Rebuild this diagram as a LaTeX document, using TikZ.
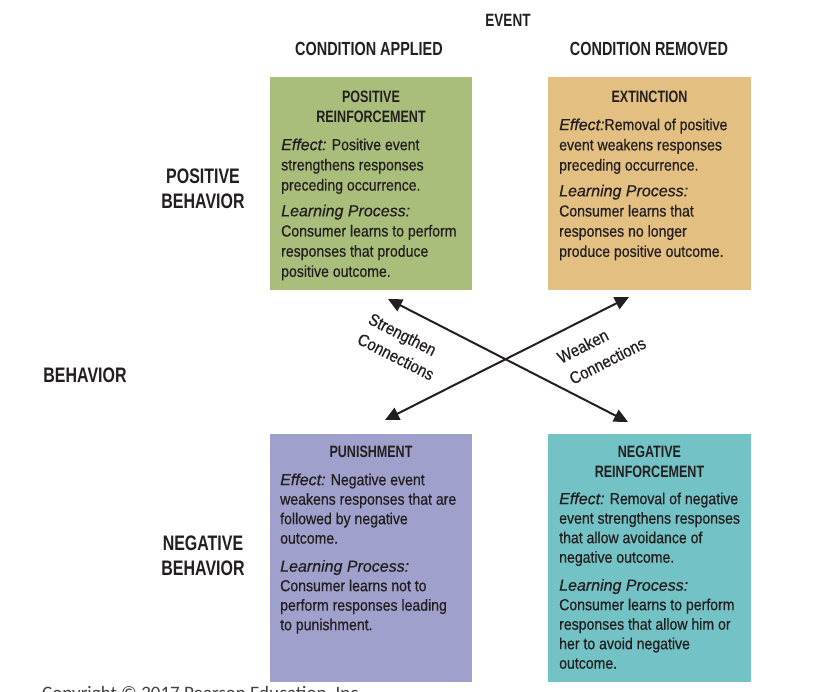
\documentclass[tikz,border=0pt]{standalone}
\usepackage{fontspec}
\setmainfont{Liberation Sans}
\newfontfamily\bodyf{Liberation Sans}[FakeStretch=0.88,FakeBold=0.5]
\newfontfamily\headf{Liberation Sans}[FakeStretch=0.76]
\newfontfamily\plainf{Liberation Sans}[FakeBold=0.5]
\newfontfamily\copyf{Carlito}
\usetikzlibrary{arrows.meta}
\definecolor{cgreen}{RGB}{169,190,123}
\definecolor{ctan}{RGB}{227,191,130}
\definecolor{cpurple}{RGB}{159,160,204}
\definecolor{cteal}{RGB}{115,194,197}
\definecolor{ink}{RGB}{35,31,32}
\newcommand\effx[1]{{\plainf\itshape #1}}
\tikzset{
  quad/.style={draw=none, inner sep=0pt, anchor=north west, minimum width=202pt},
  hdr/.style={inner sep=0pt, text=ink, align=center, font=\headf\bfseries\fontsize{19}{23}\selectfont},
  side/.style={inner sep=0pt, text=ink, align=center, font=\headf\bfseries\fontsize{21}{25}\selectfont},
  ttl/.style={inner sep=0pt, text=ink, align=center, anchor=north, font=\headf\bfseries\fontsize{16.5}{20}\selectfont},
  bodytop/.style={inner sep=0pt, text=ink, align=left, anchor=north west, font=\bodyf\fontsize{16}{20.2}\selectfont},
  bodybot/.style={inner sep=0pt, text=ink, align=left, anchor=north west, font=\bodyf\fontsize{16}{19.5}\selectfont},
  lbl/.style={inner sep=0pt, text=ink, anchor=base west, font=\bodyf\fontsize{17}{20}\selectfont},
  conn/.style={line width=2pt, draw=ink, {Triangle[length=14pt,width=13pt]}-{Triangle[length=14pt,width=13pt]}}
}
\begin{document}
\begin{tikzpicture}[x=1pt,y=-1pt]
\path[use as bounding box, clip] (0,0) rectangle (836,692);
\fill[white] (0,0) rectangle (836,692);

% headers
\node[hdr, font=\headf\bfseries\fontsize{17.8}{21}\selectfont] (event) at (508,20) {EVENT};
\node[hdr] (capp) at (369,49) {CONDITION APPLIED};
\node[hdr] (crem) at (649,49) {CONDITION REMOVED};
\node[side] (posb) at (203,188.5) {POSITIVE\\BEHAVIOR};
\node[side] (beh) at (85,375) {BEHAVIOR};
\node[side] (negb) at (203,555.5) {NEGATIVE\\BEHAVIOR};

% boxes
\node[quad, fill=cgreen, minimum height=213pt] (pr) at (270,77) {};
\node[quad, fill=ctan, minimum width=203pt, minimum height=213pt] (ex) at (548,77) {};
\node[quad, fill=cpurple, minimum height=248pt] (pu) at (270,434) {};
\node[quad, fill=cteal, minimum width=203pt, minimum height=248pt] (nr) at (548,434) {};

% positive reinforcement
\node[ttl] (prt) at (371,89.5) {\rule{0pt}{12.5pt}POSITIVE\\REINFORCEMENT};
\node[bodytop] (prb) at (281,138) {\rule{0pt}{12pt}\effx{Effect:} Positive event\\strengthens responses\\preceding occurrence.\\[5.5pt]\effx{Learning Process:}\\Consumer learns to perform\\responses that produce\\positive outcome.};

% extinction
\node[ttl] (ext) at (649.5,89.5) {\rule{0pt}{12.5pt}EXTINCTION};
\node[bodytop] (exb) at (559,118) {\rule{0pt}{12pt}\effx{Effect:}Removal of positive\\event weakens responses\\preceding occurrence.\\[5.5pt]\effx{Learning Process:}\\Consumer learns that\\responses no longer\\produce positive outcome.};

% punishment
\node[ttl] (put) at (371,444.5) {\rule{0pt}{12.5pt}PUNISHMENT};
\node[bodybot] (pub) at (280,473) {\rule{0pt}{12pt}\effx{Effect:} Negative event\\weakens responses that are\\followed by negative\\outcome.\\[8.5pt]\effx{Learning Process:}\\Consumer learns not to\\perform responses leading\\to punishment.};

% negative reinforcement
\node[ttl] (nrt) at (649.5,444.5) {\rule{0pt}{12.5pt}NEGATIVE\\REINFORCEMENT};
\node[bodybot] (nrb) at (559,492) {\rule{0pt}{12pt}\effx{Effect:} Removal of negative\\event strengthens responses\\that allow avoidance of\\negative outcome.\\[8.5pt]\effx{Learning Process:}\\Consumer learns to perform\\responses that allow him or\\her to avoid negative\\outcome.};

% connectors
\coordinate (a1) at (388,299);
\coordinate (a2) at (628,422);
\coordinate (b1) at (629,297);
\coordinate (b2) at (385,420);
\draw[conn] (a1) -- (a2);
\draw[conn] (b1) -- (b2);

\node[lbl, rotate=-27] (s1) at (367,323) {Strengthen};
\node[lbl, rotate=-27] (s2) at (356,343) {Connections};
\node[lbl, rotate=27] (w1) at (561,364) {Weaken};
\node[lbl, rotate=27] (w2) at (573,385) {Connections};

% copyright (cut off at bottom)
\node[inner sep=0pt, anchor=base west, text=black!75, font=\copyf\fontsize{19}{22}\selectfont] (copy) at (42,699) {Copyright © 2017 Pearson Education, Inc.};
\end{tikzpicture}
\end{document}
